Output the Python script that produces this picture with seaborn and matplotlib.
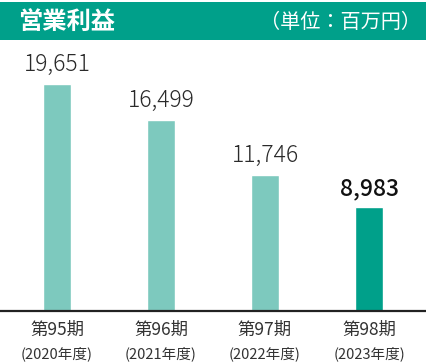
import matplotlib
matplotlib.use("Agg")
import matplotlib.pyplot as plt
import seaborn as sns
from matplotlib.patches import Rectangle

periods = ["第95期", "第96期", "第97期", "第98期"]
years = ["(2020年度)", "(2021年度)", "(2022年度)", "(2023年度)"]
values = [19651, 16499, 11746, 8983]
value_labels = ["19,651", "16,499", "11,746", "8,983"]
bar_colors = ["#7DC9BE", "#7DC9BE", "#7DC9BE", "#00A08A"]
title = "営業利益"
unit = "（単位：百万円）"

sns.set_theme(style="white")
plt.rcParams['font.family'] = ['Noto Sans CJK JP', 'DejaVu Sans']

W, H = 426, 362
fig = plt.figure(figsize=(W / 100, H / 100), dpi=100)

# banner
fig.patches.append(Rectangle((0, 1 - 39.5 / H), 1, 38 / H, transform=fig.transFigure,
                             facecolor="#00A08A", edgecolor="none", zorder=0))
fig.text(18 / W, 1 - 21.5 / H, title, color="white", fontsize=17.5, fontweight="bold",
         ha="left", va="center")
fig.text(421 / W, 1 - 22 / H, unit, color="white", fontsize=14.5,
         ha="right", va="center")

base = 310.5
top = 40
ax = fig.add_axes([0, (H - base) / H, 1, (base - top) / H])
sns.barplot(x=periods, y=values, hue=periods, palette=bar_colors, legend=False,
            width=0.263, saturation=1, ax=ax)
ax.set_xlim(-0.548, 3.548)
ax.set_ylim(0, 23470)
for s in ["top", "right", "left"]:
    ax.spines[s].set_visible(False)
ax.spines["bottom"].set_color("#222222")
ax.spines["bottom"].set_linewidth(1.6)
ax.set_yticks([])
ax.set_xticks([])
ax.set_xlabel("")
ax.set_ylabel("")

for i, (v, lab) in enumerate(zip(values, value_labels)):
    last = i == len(values) - 1
    ax.annotate(lab, (i, v), xytext=(0, 5), textcoords="offset points",
                ha="center", va="bottom", fontsize=16.5,
                fontweight=500 if last else 300,
                color="#111111" if last else "#2a2a2a")
    ax.annotate(periods[i], (i, 0), xytext=(0, -19 * 0.72), textcoords="offset points",
                ha="center", va="center", fontsize=12.5, color="#333333",
                annotation_clip=False)
    ax.annotate(years[i], (i, 0), xytext=(0, -43 * 0.72), textcoords="offset points",
                ha="center", va="center", fontsize=10.5, color="#333333",
                annotation_clip=False)

fig.savefig("out.png", dpi=100)
